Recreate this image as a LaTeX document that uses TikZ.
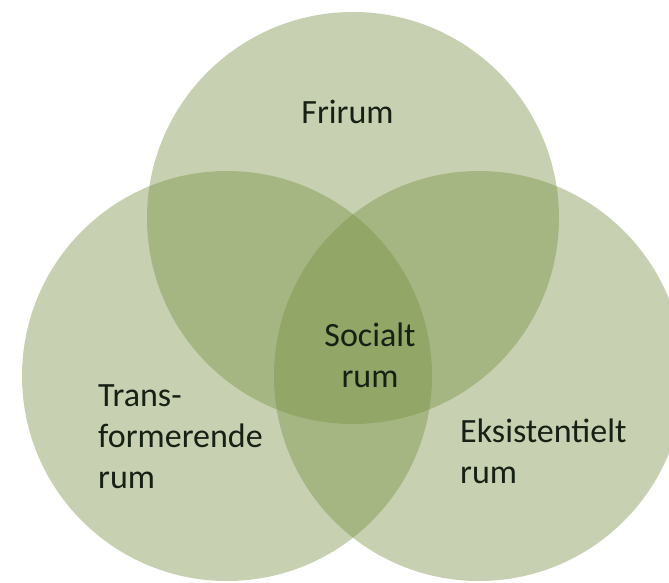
\documentclass[tikz,border=0pt]{standalone}
\usepackage{fontspec}
\setmainfont{Carlito}
\definecolor{venngreen}{RGB}{117,142,62}
\definecolor{venntext}{RGB}{22,32,20}
\begin{document}
\begin{tikzpicture}[x=1pt,y=-1pt,
  venncircle/.style={fill=venngreen,fill opacity=0.4,draw=none},
  vennlabel/.style={text=venntext,inner sep=0pt,font=\fontsize{34}{41}\selectfont}]
\useasboundingbox (0,0) rectangle (669,583);
\fill[white] (0,0) rectangle (669,583);
\clip (0,0) rectangle (669,583);
\fill[venncircle] (353,218) circle[radius=206];
\fill[venncircle] (227,376) circle[radius=205];
\fill[venncircle] (479,376) circle[radius=205];
\node[vennlabel,anchor=base] (fri) at (347.5,124) {Frirum};
\node[vennlabel,anchor=base,align=center] (soc) at (370,387) {Socialt\\rum};
\node[vennlabel,anchor=base west,align=left] (tra) at (98,488) {Trans-\\formerende\\rum};
\node[vennlabel,anchor=base west,align=left] (eks) at (460,483) {Eksistentielt\\rum};
\end{tikzpicture}
\end{document}
